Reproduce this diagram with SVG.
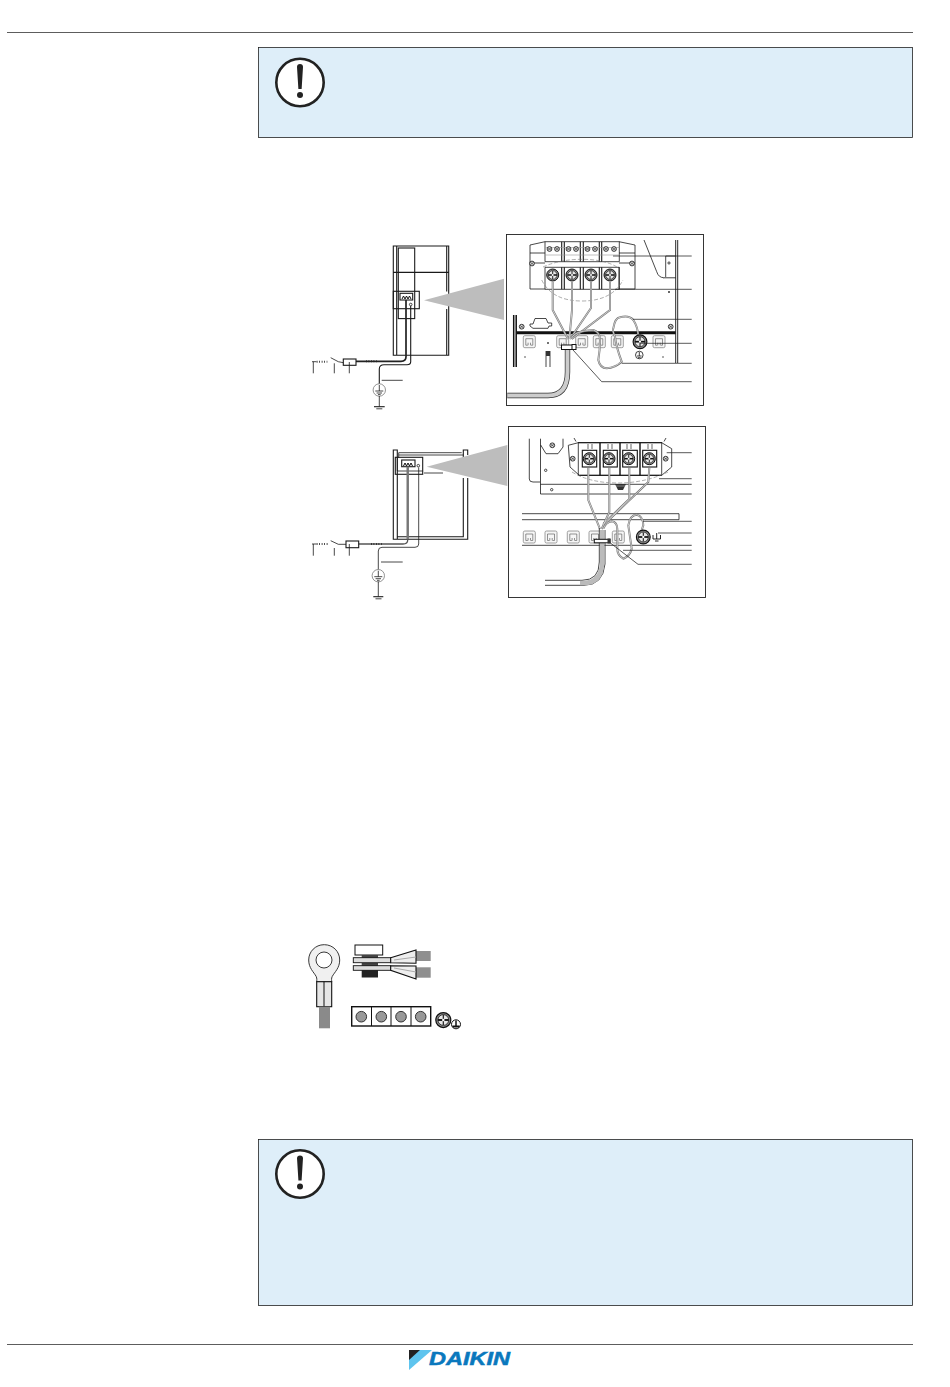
<svg xmlns="http://www.w3.org/2000/svg" width="950" height="1387" viewBox="0 0 950 1387">
<style>
.k{fill:none;stroke:#1a1a1a;stroke-width:.8}
.t{fill:none;stroke:#1a1a1a;stroke-width:1.1}
.l{fill:none;stroke:#222;stroke-width:.75}
.w{fill:none;stroke:#777;stroke-width:2}
.wi{fill:none;stroke:#eee;stroke-width:.7}
.g{fill:#bdbdbd}
.note{fill:#deeef9;stroke:#222;stroke-width:.8}
.s{fill:#fff;stroke:#222;stroke-width:.9}
.d{fill:none;stroke:#777;stroke-width:.6;stroke-dasharray:4 2}
</style>
<defs>
<g id="alert">
<circle cx="0" cy="0" r="23.7" fill="#fff" stroke="#222" stroke-width="2.6"/>
<path d="M-3 -15.500a3 3 0 0 1 6 0L1.600 6.500h-3.200Z" fill="#222"/>
<circle cx="0" cy="12.500" r="3" fill="#222"/>
</g>
<g id="screw">
<circle r="6" fill="#888" stroke="#111" stroke-width="1"/>
<circle r="4.300" fill="#e8e8e8" stroke="#111" stroke-width=".6"/>
<path d="M-4.300 0H4.300" stroke="#111" stroke-width="1.500"/>
<path d="M0-4V4" stroke="#111" stroke-width=".9"/>
<circle r="1" fill="#fff"/>
</g>
<g id="small">
<circle r="2.400" fill="#ddd" stroke="#111" stroke-width=".8"/>
<path d="M-1.600 -1.200L1.600 1.200M-1.600 1.200L1.600 -1.200" stroke="#111" stroke-width=".5"/>
</g>
<g id="clip">
<rect x="-6" y="-6" width="12" height="12" rx="1.500" fill="#f6f6f6" stroke="#888" stroke-width=".8"/>
<path d="M-3.500 3.500V-3H3.500V3.500M-3.500 3.500H-1.500M3.500 3.500H1.500M-1.200 3.500V1M1.200 3.500V1" fill="none" stroke="#666" stroke-width=".7"/>
</g>
<g id="earth">
<circle cx="0" cy="0" r="6.200" fill="#fff" stroke="#777" stroke-width=".8"/>
<path d="M0-5V1M-4 1H4M-2.700 3H2.700M-1.300 4.600H1.300" class="k"/>
</g>
</defs>

<g id="header"><path d="M7 32.500H913" stroke="#333" stroke-width=".8"/></g>

<g id="note-top">
<rect class="note" x="258.500" y="47.500" width="654" height="90"/>
<use href="#alert" x="300" y="82.500"/>
</g>

<g id="unit-1">
<path class="t" d="M393.300 246H448.700V355.300H393.300ZM396.700 246V355.300M446.700 246V291.500M446.700 309V355.300M393.300 272.400H448.700"/>
<rect class="t" x="398.300" y="248" width="16.400" height="70.600"/>
<rect class="t" x="393.300" y="291.300" width="26" height="17.400"/>
<rect class="t" x="400" y="293.300" width="12.700" height="6.700" fill="#fff"/>
<path d="M402 299l1.500-3 1.500 3 1.500-3 1.500 3 1.500-3 1.500 3" stroke="#111" fill="none" stroke-width="1"/>
<circle cx="410.700" cy="304.500" r="1.300" class="k"/>
<path d="M406 300V356.700Q406 361.300 401 361.300H356" stroke="#222" stroke-width="1.700" fill="none"/>
<path d="M410.700 306V361.700Q410.700 364.700 407 364.700H384Q379.300 364.700 379.300 369V384" class="t"/>
<path class="g" d="M424 300.300L504 278.700V320Z"/>
<g id="switch-1">
<path class="k" d="M312 361.700H316.500M313.300 361.700V373.300M334.300 363.300V373.300M330.700 357.700L338.300 361.700L343.300 362.700M349.300 362V373.300"/>
<path d="M316.700 361.700H327.300" stroke="#222" stroke-width="2" stroke-dasharray=".8 1.700" fill="none"/>
<path d="M366 361.300H376.700" stroke="#222" stroke-width="2" stroke-dasharray=".8 1.700" fill="none"/>
<rect class="t" x="343.300" y="359" width="12.700" height="6.300" fill="#fff"/>
</g>
<use href="#earth" x="379.300" y="390"/>
<path class="k" d="M381.700 380.300H402.700M379.300 396V406.700"/>
<path class="t" d="M374 406.700H384.700"/>
<path class="k" d="M376.300 408.800H382.300"/>
</g>

<g id="detail-1">
<rect class="s" x="506.500" y="234.500" width="197" height="171"/>
<path class="k" d="M530 245L545 241.700M619 241.700L635 245M530 245V253H545M530 263V289H545M619 253H635V245M619 263H635V289H619M530 253V263M635 253V263M530 263H545M619 289V267"/>
<path class="k" d="M545 241.700H619.300V261.700H545ZM545 267.300H619.300V289.300H545Z"/>
<path class="t" d="M561.700 241.700V261.700M564.300 241.700V261.700M580.300 241.700V261.700M583.300 241.700V261.700M599.300 241.700V261.700M601.700 241.700V261.700M561.700 267.300V289.300M564.300 267.300V289.300M580.300 267.300V289.300M583.300 267.300V289.300M599.300 267.300V289.300M601.700 267.300V289.300"/>
<path d="M545 247.500H619.300M545 255H619.300" stroke="#999" stroke-width=".6"/>
<use href="#small" x="549.500" y="249"/><use href="#small" x="557" y="249"/>
<use href="#small" x="568.500" y="249"/><use href="#small" x="576" y="249"/>
<use href="#small" x="587.500" y="249"/><use href="#small" x="595" y="249"/>
<use href="#small" x="606" y="249"/><use href="#small" x="614" y="249"/>
<use href="#screw" x="552.700" y="275"/><use href="#screw" x="572" y="275"/><use href="#screw" x="591" y="275"/><use href="#screw" x="610" y="275"/>
<use href="#small" x="532" y="263.500"/><use href="#small" x="632" y="263.500"/>
<path class="d" d="M541.700 280Q552 301 582 301Q612 301 623 280M543 267Q560 259.300 582 259.300Q604 259.300 617 267"/>
<path class="k" d="M644 240L656.700 271.700Q658.500 277.700 664 277.700"/>
<path d="M663 277.700H675.700" stroke="#777" stroke-width="1.400"/>
<path class="k" d="M665.700 256H675.700M665.700 256V277"/>
<circle cx="669" cy="263" r="1.100" class="k"/>
<circle cx="669" cy="292" r="1" fill="#333"/>
<path d="M675.700 240V363M677.700 240V363" stroke="#111" stroke-width=".9"/>
<path d="M513.700 315V367M516.200 315V367" stroke="#111" stroke-width="1.500"/>
<path d="M516.500 332.700H675.700" stroke="#111" stroke-width="3"/>
<use href="#small" x="521.700" y="326.700"/><use href="#small" x="670.700" y="326.700"/>
<path class="k" d="M530 324H533L535 318.500H546L548 323H551.700V326H549L548 328.300H533L530 326Z"/>
<use href="#clip" x="529.300" y="341.700"/><use href="#clip" x="562.700" y="341.700"/><use href="#clip" x="581.700" y="341.700"/><use href="#clip" x="599.300" y="341.700"/><use href="#clip" x="617.300" y="341.700"/><use href="#clip" x="659" y="341.700"/>
<circle cx="548" cy="343" r="1" fill="#444"/>
<circle cx="525" cy="357" r=".8" fill="#444"/><circle cx="663" cy="357" r=".8" fill="#444"/>
<path class="k" d="M546 351V367M550 351V367"/><rect x="546" y="351" width="4" height="5" fill="#333"/>
<g id="wires-1">
<path class="w" d="M552.700 282V310L568 339"/>
<path class="w" d="M572 282V310L569.300 339"/>
<path class="w" d="M591 282V308L570 339"/>
<path class="w" d="M610 282V310L571.700 339"/>
<path class="wi" d="M552.700 282V310L568 339M572 282V310L569.300 339M591 282V308L570 339M610 282V310L571.700 339"/>
<path class="w" stroke-width="1.800" d="M571.700 338C574 333 580 331 593.300 330Q600 332 600 340Q600 350 598.300 360Q600 368 606.700 368.300Q615 368 621.700 361.700C618 352 616 345 615 336.700Q612 330 613.300 328.300Q615 318 620 317.300Q629 315 633.300 320Q638 327 638.300 336.700"/>
<path class="wi" stroke-width=".6" d="M571.700 338C574 333 580 331 593.300 330Q600 332 600 340Q600 350 598.300 360Q600 368 606.700 368.300Q615 368 621.700 361.700C618 352 616 345 615 336.700Q612 330 613.300 328.300Q615 318 620 317.300Q629 315 633.300 320Q638 327 638.300 336.700"/>
<path d="M567.500 348V372Q567.500 395.500 548 395.500H507.300" fill="none" stroke="#333" stroke-width="5.400"/>
<path d="M567.500 348V372Q567.500 395.500 548 395.500H507.300" fill="none" stroke="#ccc" stroke-width="4"/>
<rect x="561.500" y="345" width="12" height="4.500" fill="#fff" stroke="#111"/>
<rect x="572" y="344.500" width="4" height="5" fill="#fff" stroke="#111"/>
</g>
<use href="#screw" x="640" y="341.700" transform="translate(640 341.700) scale(1.150) translate(-640 -341.700)"/>
<circle cx="639.300" cy="355" r="3.800" fill="#fff" stroke="#111" stroke-width=".8"/>
<path d="M639.300 352V356M637 356H641.600M638 357.700H640.600" stroke="#111" stroke-width=".8"/>
<g id="leaders-1">
<path class="l" d="M613 256H691.700M615 289.300H691.700M633 319.300H691.700M640 343.300H691.700M621.700 363.300H691.700"/>
<path class="l" d="M573 350L601.700 381.700H691.700"/>
</g>
</g>

<g id="unit-2">
<path class="t" d="M393.300 450H397.300V539.300H393.300ZM397.300 536.700H463.300V478M397.300 539.300H467.700V478M463.300 465V450H467.700V455"/>
<path class="k" d="M398.700 452.700H461.700M398.700 455H463.300M398.700 452.700V458M424 473H443"/>
<rect class="t" x="395.300" y="457.300" width="27.400" height="17"/>
<path class="k" d="M397.300 457.300V471H422.700"/>
<rect class="t" x="401.700" y="460" width="13.300" height="6.700" fill="#fff"/>
<path d="M403.500 466l1.500-3 1.500 3 1.500-3 1.500 3 1.500-3 1.500 3" stroke="#111" fill="none" stroke-width="1"/>
<circle cx="418.300" cy="465.700" r="1.300" class="k"/>
<path d="M407.700 466.700V540Q407.700 544 403 544H358.700" stroke="#555" stroke-width="1.300" fill="none"/>
<path d="M407.700 466.700V539" stroke="#777" stroke-width="2.400" fill="none"/>
<path d="M418.700 467.500V544Q418.700 547.300 415 547.300H382Q378.300 547.300 378.300 551V570" class="k"/>
<path class="g" d="M426.700 466.700L507.300 445V486Z"/>
<path class="k" d="M312 544H316.500M313.300 544V555.700M334.300 548V555.700M330.700 540.700L338.300 544.300L346 544.300M349.300 544V555.700"/>
<path d="M316.700 544H328.300" stroke="#222" stroke-width="2" stroke-dasharray=".8 1.700" fill="none"/>
<path d="M371 544H381.700" stroke="#222" stroke-width="2" stroke-dasharray=".8 1.700" fill="none"/>
<rect class="t" x="346" y="541" width="12.700" height="6.700" fill="#fff"/>
<use href="#earth" x="378.300" y="575.700"/>
<path class="k" d="M381 562H402.700M378.300 581.500V596.700"/>
<path class="t" d="M373.300 596.700H383.300"/>
<path class="k" d="M375.500 598.800H381.500"/>
</g>

<g id="detail-2">
<rect class="s" x="508.500" y="426.500" width="197" height="171"/>
<path class="k" d="M529.300 438.700V479Q529.300 482 533 482H540M540.500 438.700V494H691.700M540.500 484.300H691.700"/>
<path class="k" d="M540.700 445L546 453.700H558L563 447V438.700"/>
<use href="#small" x="552.300" y="445.300"/>
<circle cx="545.700" cy="470.300" r="1.200" class="k"/><circle cx="551.700" cy="489.700" r="1.200" class="k"/>
<path d="M568.300 445.300L578.300 442.700H661.700L671.700 448.700V467L661.700 475.300H579.300L570 467L568.300 445.300Z" fill="#fff" class="k"/>
<path class="k" d="M578.300 442V475.300M661.700 442V475.300M576 441.500L574 438M664 441.500L666 438"/>
<path d="M578.300 442.700H661.700M578.300 475.300H661.700" stroke="#111" stroke-width="1"/>
<path d="M600 442.700V475.300M620 442.700V475.300M640 442.700V475.300" stroke="#111" stroke-width="1.400"/>
<rect x="582.300" y="450.300" width="14.400" height="16.700" fill="#fff" stroke="#111" stroke-width="1.100"/>
<rect x="603.300" y="450.300" width="14" height="16.700" fill="#fff" stroke="#111" stroke-width="1.100"/>
<rect x="622.700" y="450.300" width="14.600" height="16.700" fill="#fff" stroke="#111" stroke-width="1.100"/>
<rect x="642.700" y="450.300" width="14" height="16.700" fill="#fff" stroke="#111" stroke-width="1.100"/>
<path d="M588 444V449M592 444V449M608 444V449M612 444V449M627 444V449M631 444V449M648 444V449M652 444V449" stroke="#222" stroke-width=".7"/>
<use href="#screw" x="589.300" y="458.700"/><use href="#screw" x="609" y="458.700"/><use href="#screw" x="628.700" y="458.700"/><use href="#screw" x="649.300" y="458.700"/>
<use href="#small" x="572.700" y="458.700"/><use href="#small" x="665.700" y="458.700"/>
<path class="d" d="M572 472Q590 483 618 483Q645 483 668 472"/>
<path d="M615 484H626L623 490H618Z" fill="#333"/><path d="M616 486H625" stroke="#999" stroke-width=".8"/>
<path class="k" d="M522 513.700H679V519.700H522M522 545.300H691.700"/>
<use href="#clip" x="529.300" y="537"/><use href="#clip" x="551" y="537"/><use href="#clip" x="573.300" y="537"/><use href="#clip" x="595" y="537"/><use href="#clip" x="618.300" y="537"/>
<g id="wires-2">
<path class="w" d="M588.300 468V500L600 529"/>
<path class="w" d="M609.300 468V512L601.700 529"/>
<path class="w" d="M629.300 468V499L603.300 524"/>
<path class="w" d="M649.300 468L648.300 482L606.700 522"/>
<path class="wi" d="M588.300 468V500L600 529M609.300 468V512L601.700 529M629.300 468V499L603.300 524M649.300 468L648.300 482L606.700 522"/>
<path class="w" stroke-width="1.600" d="M603.300 528.700Q606 522 611.700 521.300Q617 522 617.300 528.700V548Q617 555 623.300 558.700Q630 556 631.700 548.700L628.300 525.300Q630 515 636.700 514.700Q643 516 643.300 525.300L641.700 530"/>
<path class="wi" stroke-width=".5" d="M603.300 528.700Q606 522 611.700 521.300Q617 522 617.300 528.700V548Q617 555 623.300 558.700Q630 556 631.700 548.700L628.300 525.300Q630 515 636.700 514.700Q643 516 643.300 525.300L641.700 530"/>
<path d="M599.300 528V562Q599.300 580.300 582 580.300H545M605 530V564Q603 585.300 584 585.300H545" fill="none" stroke="#333" stroke-width=".9"/>
<path d="M602.200 530V563Q601 583 584 583H580" fill="none" stroke="#bbb" stroke-width="4.500"/>
<rect x="594.300" y="539.300" width="15.700" height="3.500" fill="#fff" stroke="#111"/>
<rect x="607.500" y="538.500" width="3" height="5" fill="#333"/>
</g>
<use href="#screw" x="643.300" y="537" transform="translate(643.300 537) scale(1.150) translate(-643.300 -537)"/>
<path d="M656.700 533V539M653 535V539H660.500V535M655 541H658.500" stroke="#111" stroke-width=".9" fill="none"/>
<path class="l" d="M666.700 452.700H691.700M659 478.700H691.700M643 521.300H691.700M658 533H691.700M623 550.300H691.700"/>
<path class="l" d="M610 542.700L638 564.300H691.700"/>
</g>

<g id="lug">
<path d="M324 944.700c-8.500 0-15.300 6.800-15.300 15.300 0 8 5 12 7.500 16.500 1 2 .5 4 .5 5.500h15c0-1.500-.5-3.500.5-5.500 2.500-4.500 7.500-8.500 7.500-16.500 0-8.500-6.800-15.300-15.300-15.300Z" fill="#f0f0f0" stroke="#222" stroke-width=".9"/>
<circle cx="324" cy="960" r="8" fill="#fff" stroke="#222" stroke-width=".9"/>
<rect x="316.700" y="981.700" width="15" height="25" fill="#e6e6e6" stroke="#111" stroke-width="1.100"/>
<path d="M324 981.700V1006.700" stroke="#111"/>
<rect x="319" y="1006.700" width="11" height="21.600" fill="#8a8a8a"/>
</g>
<g id="ring-stack">
<rect x="355" y="945" width="27.700" height="10" fill="#fff" stroke="#111" stroke-width="1"/>
<rect x="361.700" y="955" width="16.300" height="3" fill="#444"/>
<rect x="361.700" y="963" width="16.300" height="3" fill="#444"/>
<rect x="361.700" y="970" width="16.300" height="7.500" fill="#222"/>
<rect x="353.300" y="957.700" width="37.400" height="5" fill="#ddd" stroke="#111" stroke-width=".9"/>
<rect x="353.300" y="965.700" width="37.400" height="4.600" fill="#ddd" stroke="#111" stroke-width=".9"/>
<rect x="416" y="951" width="14.700" height="10" fill="#8f8f8f"/>
<rect x="416" y="967.300" width="14.700" height="10.400" fill="#8f8f8f"/>
<path d="M390.700 957.700L416 950V963.300L390.700 962.700Z" fill="#eee" stroke="#111" stroke-width="1.100"/>
<path d="M390.700 965.700L416 966V979L390.700 970.300Z" fill="#eee" stroke="#111" stroke-width="1.100"/>
<path d="M394 960L416 957M394 968L416 972" stroke="#aaa"/>
</g>
<g id="term-row">
<rect x="351.700" y="1006.700" width="79" height="19.300" fill="#fff" stroke="#111" stroke-width="1.400"/>
<path d="M371.500 1006.700V1026M391 1006.700V1026M411 1006.700V1026" stroke="#111"/>
<circle cx="361.300" cy="1016.700" r="5.300" fill="#999" stroke="#333"/>
<circle cx="381.300" cy="1016.700" r="5.300" fill="#999" stroke="#333"/>
<circle cx="401" cy="1016.700" r="5.300" fill="#999" stroke="#333"/>
<circle cx="420.700" cy="1016.700" r="5.300" fill="#999" stroke="#333"/>
<use href="#screw" x="443.300" y="1020" transform="translate(443.300 1020) scale(1.250) translate(-443.300 -1020)"/>
<circle cx="456" cy="1024.300" r="4.500" fill="#fff" stroke="#111"/>
<path d="M456 1020.500V1026" stroke="#111" stroke-width="1.500"/><path d="M452.500 1026.500H459.500" stroke="#111" stroke-width="2"/>
</g>

<g id="note-bottom">
<rect class="note" x="258.500" y="1139.500" width="654" height="166"/>
<use href="#alert" x="300" y="1174"/>
</g>

<g id="footer">
<path d="M7 1344.500H913" stroke="#333" stroke-width=".8"/>
<path d="M409 1350H432L409 1370Z" fill="#5ec4ee"/>
<path d="M409 1350H420L409 1360Z" fill="#222"/>
<text x="429" y="1365" font-family="Liberation Sans, Arial, sans-serif" font-weight="700" font-style="italic" font-size="17.500" fill="#0a78bd" textLength="81" lengthAdjust="spacingAndGlyphs" stroke="#0a78bd" stroke-width=".5">DAIKIN</text>
</g>
</svg>
